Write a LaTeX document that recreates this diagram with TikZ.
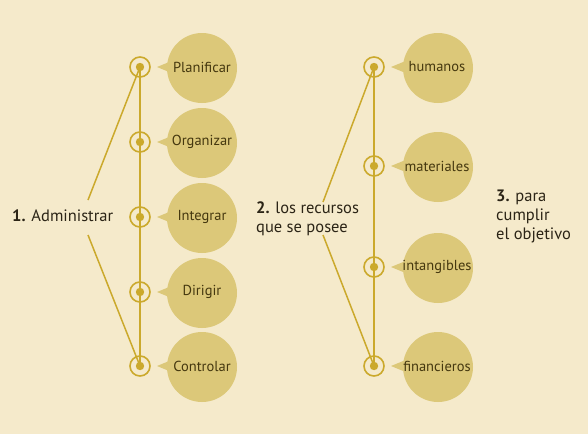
\documentclass[tikz,border=0pt]{standalone}
\usepackage{fontspec}
\setmainfont{PT Sans}
\usetikzlibrary{calc}
\definecolor{bg}{HTML}{F5EACB}
\definecolor{bub}{HTML}{DCC879}
\definecolor{gold}{HTML}{CBA92C}
\definecolor{txt}{HTML}{2B2416}
\definecolor{btxt}{HTML}{45380F}
\begin{document}
\begin{tikzpicture}[x=1pt,y=-1pt,
  ringnode/.style={circle, draw=gold, line width=1.6pt, minimum size=20pt, inner sep=0pt},
  bubble/.style={circle, fill=bub, minimum size=70pt, inner sep=0pt},
  btext/.style={inner sep=0pt, text=btxt, font=\fontsize{14.5}{17}\selectfont},
  lbl/.style={text=txt, font=\fontsize{16.5}{19}\selectfont, align=left, inner sep=0pt},
  link/.style={draw=gold, line width=1.5pt}]
\fill[bg] (0,0) rectangle (588,434);
\useasboundingbox (0,0) rectangle (588,434);
% left column
\foreach \n/\y/\t in {p/67/Planificar, o/142/Organizar, i/217/Integrar, d/292/Dirigir, c/366/Controlar}{
  \node[ringnode] (r\n) at (140,\y) {};
  \fill[bub] (157,\y) -- (174,\y-7) -- (174,\y+7) -- cycle;
  \node[bubble] (b\n) at (202,\y+1) {};
  \node[btext] (t\n) at (202,\y) {\t};
}
% right column
\foreach \n/\y/\t in {h/67/humanos, m/166/materiales, t/267/intangibles, f/366/financieros}{
  \node[ringnode] (r\n) at (374,\y) {};
  \fill[bub] (391,\y) -- (408,\y-7) -- (408,\y+7) -- cycle;
  \node[bubble] (b\n) at (438,\y+1) {};
  \node[btext] (t\n) at (437,\y) {\t};
}
% labels
\node[lbl, anchor=west] (l1) at (12,216) {\textbf{1.} Administrar};
\node[lbl, anchor=west] (l2) at (256,218.5) {\textbf{2.} los recursos\\que se posee};
\node[lbl, anchor=west] (l3) at (496,216) {\textbf{3.} para\\cumplir\\el objetivo};
\coordinate (a1) at (88,200);
\coordinate (a2) at (88,235);
\coordinate (c1) at (323,202);
\coordinate (c2) at (323,235);
% connectors
\draw[link] (rp.center) -- (rc.center);
\draw[link] (a1) -- (rp.center);
\draw[link] (a2) -- (rc.center);
\draw[link] (rh.center) -- (rf.center);
\draw[link] (c1) -- (rh.center);
\draw[link] (c2) -- (rf.center);
% dots
\foreach \n in {p,o,i,d,c,h,m,t,f}{
  \fill[gold] (r\n.center) circle (4.2);
}
\end{tikzpicture}
\end{document}
